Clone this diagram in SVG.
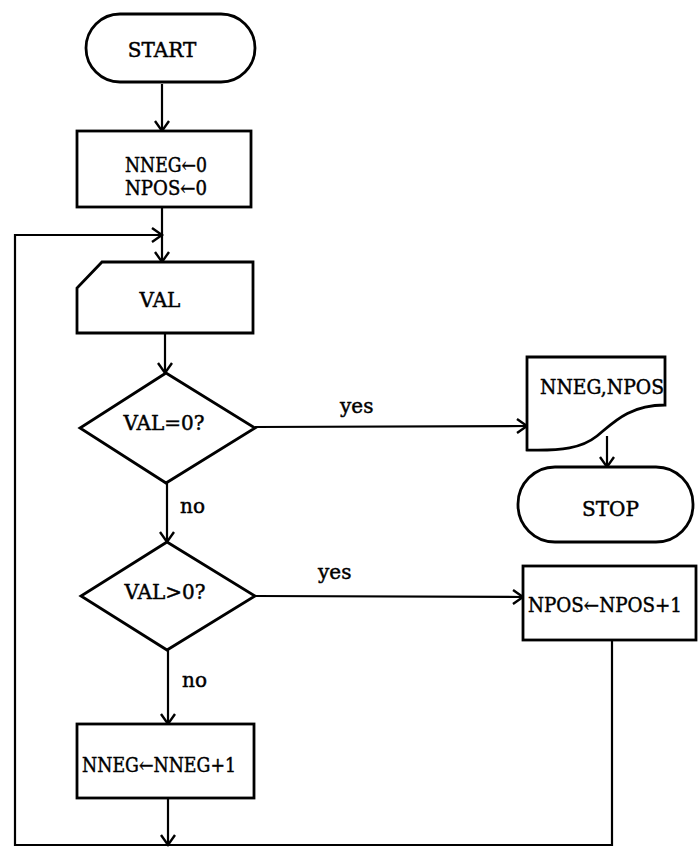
<svg xmlns="http://www.w3.org/2000/svg" width="698" height="850" viewBox="0 0 698 850">
<defs>
<marker id="arr" markerWidth="16" markerHeight="16" refX="12" refY="8" orient="auto" markerUnits="userSpaceOnUse">
<path d="M2,1 L12,8 L2,15" fill="none" stroke="#000" stroke-width="2.4"/>
</marker>
</defs>
<style>
.shape{fill:#fff;stroke:#000;stroke-width:2.8}
.line{fill:none;stroke:#000;stroke-width:2.2}
text{font-family:"DejaVu Serif","Liberation Serif",serif;font-size:20px;fill:#000;stroke:#000;stroke-width:0.45}
.c{text-anchor:middle}
</style>
<rect width="698" height="850" fill="#fff"/>
<g id="connectors">
<line class="line" x1="162" y1="84" x2="162" y2="131" marker-end="url(#arr)"/>
<line class="line" x1="162" y1="207" x2="162" y2="262" marker-end="url(#arr)"/>
<polyline class="line" points="612,640 612,845 15,845 15,235 162,235" marker-end="url(#arr)"/>
<line class="line" x1="165" y1="333" x2="165" y2="373" marker-end="url(#arr)"/>
<line class="line" x1="255" y1="427" x2="527" y2="426" marker-end="url(#arr)"/>
<text x="340" y="413">yes</text>
<line class="line" x1="167" y1="483" x2="167" y2="542" marker-end="url(#arr)"/>
<text x="180" y="513">no</text>
<line class="line" x1="255" y1="596" x2="523" y2="597" marker-end="url(#arr)"/>
<text x="318" y="579">yes</text>
<line class="line" x1="168" y1="650" x2="168" y2="724" marker-end="url(#arr)"/>
<text x="182" y="687">no</text>
<line class="line" x1="168" y1="798" x2="168" y2="845" marker-end="url(#arr)"/>
<line class="line" x1="607" y1="436" x2="607" y2="467" marker-end="url(#arr)"/>
</g>
<g id="start">
<rect class="shape" x="86" y="14" width="169" height="68" rx="34"/>
<text class="c" x="162" y="57">START</text>
</g>
<g id="init">
<rect class="shape" x="77" y="131" width="174" height="76"/>
<text x="125" y="172" textLength="82" lengthAdjust="spacingAndGlyphs">NNEG←0</text>
<text x="125" y="195" textLength="82" lengthAdjust="spacingAndGlyphs">NPOS←0</text>
</g>
<g id="input">
<path class="shape" d="M102,262 H253 V333 H77 V288 Z"/>
<text class="c" x="160" y="307">VAL</text>
</g>
<g id="dec1">
<polygon class="shape" points="166,373 255,428 166,483 80,428"/>
<text class="c" x="164" y="430">VAL=0?</text>
</g>
<g id="dec2">
<polygon class="shape" points="167,542 255,596 167,650 81,596"/>
<text class="c" x="165" y="599">VAL&gt;0?</text>
</g>
<g id="incneg">
<rect class="shape" x="77" y="724" width="177" height="74"/>
<text x="82" y="772" textLength="154" lengthAdjust="spacingAndGlyphs">NNEG←NNEG+1</text>
</g>
<g id="output">
<path class="shape" d="M527,357 H665 V405 C628,405 612,424 597,436 C582,448 562,451 527,450 Z"/>
<text x="540" y="394" textLength="124" lengthAdjust="spacingAndGlyphs">NNEG,NPOS</text>
</g>
<g id="stop">
<rect class="shape" x="518" y="467" width="175" height="75" rx="37"/>
<text x="582" y="516">STOP</text>
</g>
<g id="incpos">
<rect class="shape" x="523" y="566" width="173" height="74"/>
<text x="528" y="612" textLength="154" lengthAdjust="spacingAndGlyphs">NPOS←NPOS+1</text>
</g>
</svg>
